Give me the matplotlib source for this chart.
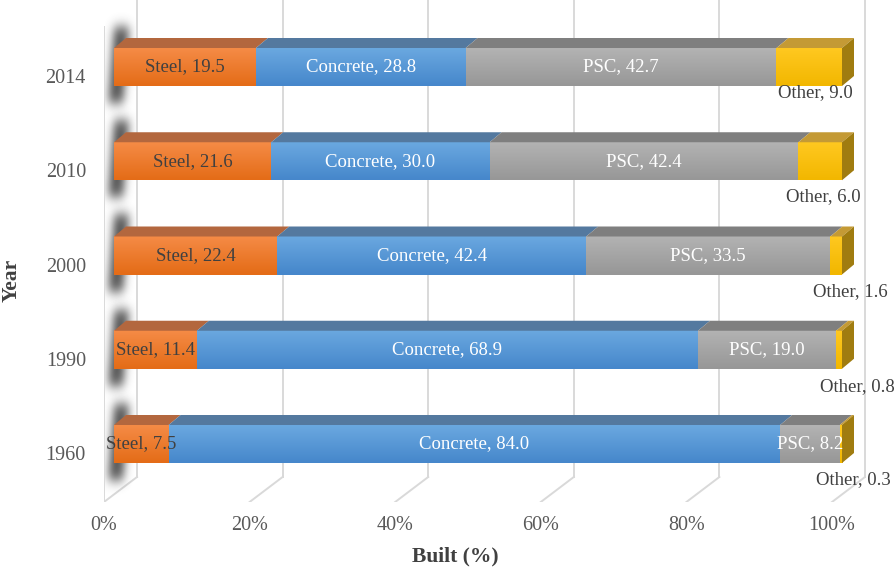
import numpy as np
import matplotlib
matplotlib.use('Agg')
import matplotlib.pyplot as plt
from matplotlib.patches import Polygon
from matplotlib.colors import to_rgb
from matplotlib.transforms import ScaledTranslation

# ---------------- data ----------------
years = ['1960', '1990', '2000', '2010', '2014']
series_names = ['Steel', 'Concrete', 'PSC', 'Other']
steel = [7.5, 11.4, 22.4, 21.6, 19.5]
concrete = [84.0, 68.9, 42.4, 30.0, 28.8]
psc = [8.2, 19.0, 33.5, 42.4, 42.7]
other = [0.3, 0.8, 1.6, 6.0, 9.0]
xticks = [0, 20, 40, 60, 80, 100]
xticklabels = ['0%', '20%', '40%', '60%', '80%', '100%']

# ---------------- style ----------------
FONT = 'Liberation Serif'
plt.rcParams['font.family'] = [FONT, 'DejaVu Serif']
front_top = ['#F58B46', '#6AA8E0', '#B3B3B3', '#FFC820']
front_bot = ['#E46C17', '#4687CB', '#979797', '#F2B700']
top_face = ['#B3673E', '#54799F', '#7F7F7F', '#C49A35']
side_face = '#A07C10'
label_colors = ['#404040', 'white', 'white', '#404040']
grid_color = '#D9D9D9'
tick_color = '#595959'
title_color = '#404040'

W, H, DPI = 896, 575, 100
fig = plt.figure(figsize=(W / DPI, H / DPI), dpi=DPI)

# axes box in pixels: x 104..866, y 0..502 (from top)
AX_L, AX_R, AX_T, AX_B = 104, 866, 0, 502
ax = fig.add_axes([AX_L / W, (H - AX_B) / H, (AX_R - AX_L) / W, (AX_B - AX_T) / H])
PXX = 7.28      # pixels per percent
PXY = 94.25     # pixels per category step
X0 = 114        # pixel of 0% on bar front face
Y0 = 444        # pixel of first category centre
xlim = ((AX_L - X0) / PXX, (AX_R - X0) / PXX)
ylim = ((Y0 - AX_B) / PXY, (Y0 - AX_T) / PXY)

def dx(px):
    return px / PXX

def dy(px):
    return px / PXY

ypos = np.arange(len(years))
vals = np.array([steel, concrete, psc, other], dtype=float)
vals = vals / vals.sum(axis=0) * 100.0
bar_h = dy(38)
depth_x, depth_y = dx(12), dy(10)

# ---------------- walls / gridlines ----------------
back_dx = dx(23)
front_dx = dx(-10)
back_floor = dy(Y0 - 477)
front_floor = ylim[0]
for v in xticks:
    ax.plot([v + back_dx, v + back_dx], [back_floor, ylim[1]], color=grid_color, lw=1.4, zorder=1)
    ax.plot([v + back_dx, v + front_dx], [back_floor, front_floor], color=grid_color, lw=1.4, zorder=1)
ax.plot([xticks[0] + front_dx] * 2, [front_floor, dy(Y0 - 27)], color=grid_color, lw=1.4, zorder=1)

# ---------------- soft shadows on left wall ----------------
def blur1d(a, sigma, axis):
    r = int(3 * sigma)
    k = np.exp(-0.5 * (np.arange(-r, r + 1) / sigma) ** 2)
    k /= k.sum()
    return np.apply_along_axis(lambda m: np.convolve(m, k, mode='same'), axis, a)

for y in ypos:
    c = Y0 - y * PXY
    px_x = np.arange(96, 146)
    px_y = np.arange(int(c) - 75, int(c) + 75)
    XX, YY = np.meshgrid(px_x + 0.5, px_y + 0.5)
    xl = 111.0 + (c - YY) * 0.08
    mask = ((XX >= xl) & (XX <= xl + 15) & (YY >= c - 40) & (YY <= c + 36)).astype(float)
    alpha = blur1d(blur1d(mask, 6.0, 0), 4.5, 1)
    alpha[(XX < 105) | (XX > 136)] = 0
    img = np.zeros(XX.shape + (4,))
    img[..., :3] = to_rgb('#3C3C3C')
    img[..., 3] = 0.9 * alpha
    ax.imshow(img, extent=[dx(px_x[0] - X0), dx(px_x[-1] + 1 - X0),
                           dy(Y0 - (px_y[-1] + 1)), dy(Y0 - px_y[0])],
              origin='upper', aspect='auto', interpolation='bilinear', zorder=2)

# ---------------- bars ----------------
left = np.zeros(len(years))
for s in range(len(series_names)):
    bars = ax.barh(ypos, vals[s], left=left, height=bar_h, color=front_bot[s], lw=0, zorder=3)
    c1 = np.array(to_rgb(front_top[s]))
    c2 = np.array(to_rgb(front_bot[s]))
    t = np.linspace(0, 1, 40)[:, None, None]
    grad = c1 * (1 - t) + c2 * t
    for b in bars:
        x0, w = b.get_x(), b.get_width()
        yb, h = b.get_y(), b.get_height()
        ax.imshow(grad, extent=[x0, x0 + w, yb, yb + h], origin='upper',
                  aspect='auto', interpolation='bilinear', zorder=4)
        top = yb + h
        ax.add_patch(Polygon([(x0, top), (x0 + w, top), (x0 + w + depth_x, top + depth_y),
                              (x0 + depth_x, top + depth_y)], closed=True,
                             facecolor=top_face[s], edgecolor='none', zorder=4))
        if s == len(series_names) - 1:
            ax.add_patch(Polygon([(x0 + w, yb), (x0 + w, top), (x0 + w + depth_x, top + depth_y),
                                  (x0 + w + depth_x, yb + depth_y)], closed=True,
                                 facecolor=side_face, edgecolor='none', zorder=4))
    left = left + vals[s]

# ---------------- data labels ----------------
raw = [steel, concrete, psc, other]
other_offsets = [(12, 36), (18, 37), (14, 36), (3, 35), (6, 26)]  # pixels (right, down)
left = np.zeros(len(years))
for s in range(len(series_names)):
    for i, y in enumerate(ypos):
        cx = left[i] + vals[s][i] / 2
        txt = f'{series_names[s]}, {raw[s][i]:.1f}'
        if s == len(series_names) - 1:
            ox, oy = other_offsets[i]
            tr = ax.transData + ScaledTranslation(ox / DPI, -oy / DPI, fig.dpi_scale_trans)
            ax.text(cx, y, txt, transform=tr, ha='center', va='center', fontsize=13.5,
                    color=label_colors[s], zorder=6)
        else:
            ax.text(cx, y, txt, ha='center', va='center', fontsize=13.5,
                    color=label_colors[s], zorder=6)
    left = left + vals[s]

# ---------------- axes ----------------
ax.set_xlim(*xlim)
ax.set_ylim(*ylim)
for sp in ax.spines.values():
    sp.set_visible(False)
ax.set_xticks(xticks)
ax.set_xticklabels(xticklabels)
ax.set_yticks(ypos)
ax.set_yticklabels(years)
ax.tick_params(axis='both', length=0, labelsize=14.5, colors=tick_color)
ax.tick_params(axis='x', pad=10)
ax.tick_params(axis='y', pad=13)
for lab in ax.get_xticklabels():
    lab.set_transform(lab.get_transform() + ScaledTranslation(-10 / DPI, 0, fig.dpi_scale_trans))
for lab in ax.get_yticklabels():
    lab.set_transform(lab.get_transform() + ScaledTranslation(0, -9 / DPI, fig.dpi_scale_trans))
ax.patch.set_visible(False)

ax.set_xlabel('Built (%)', fontsize=15.5, fontweight='bold', color=title_color)
ax.xaxis.set_label_coords((455 - AX_L) / (AX_R - AX_L), (AX_B - 556) / (AX_B - AX_T))
ax.xaxis.label.set_va('center')
ax.set_ylabel('Year', fontsize=15.5, fontweight='bold', color=title_color)
ax.yaxis.set_label_coords((12 - AX_L) / (AX_R - AX_L), (AX_B - 280) / (AX_B - AX_T))
ax.yaxis.label.set_va('center')

fig.savefig('out.png', dpi=DPI)
